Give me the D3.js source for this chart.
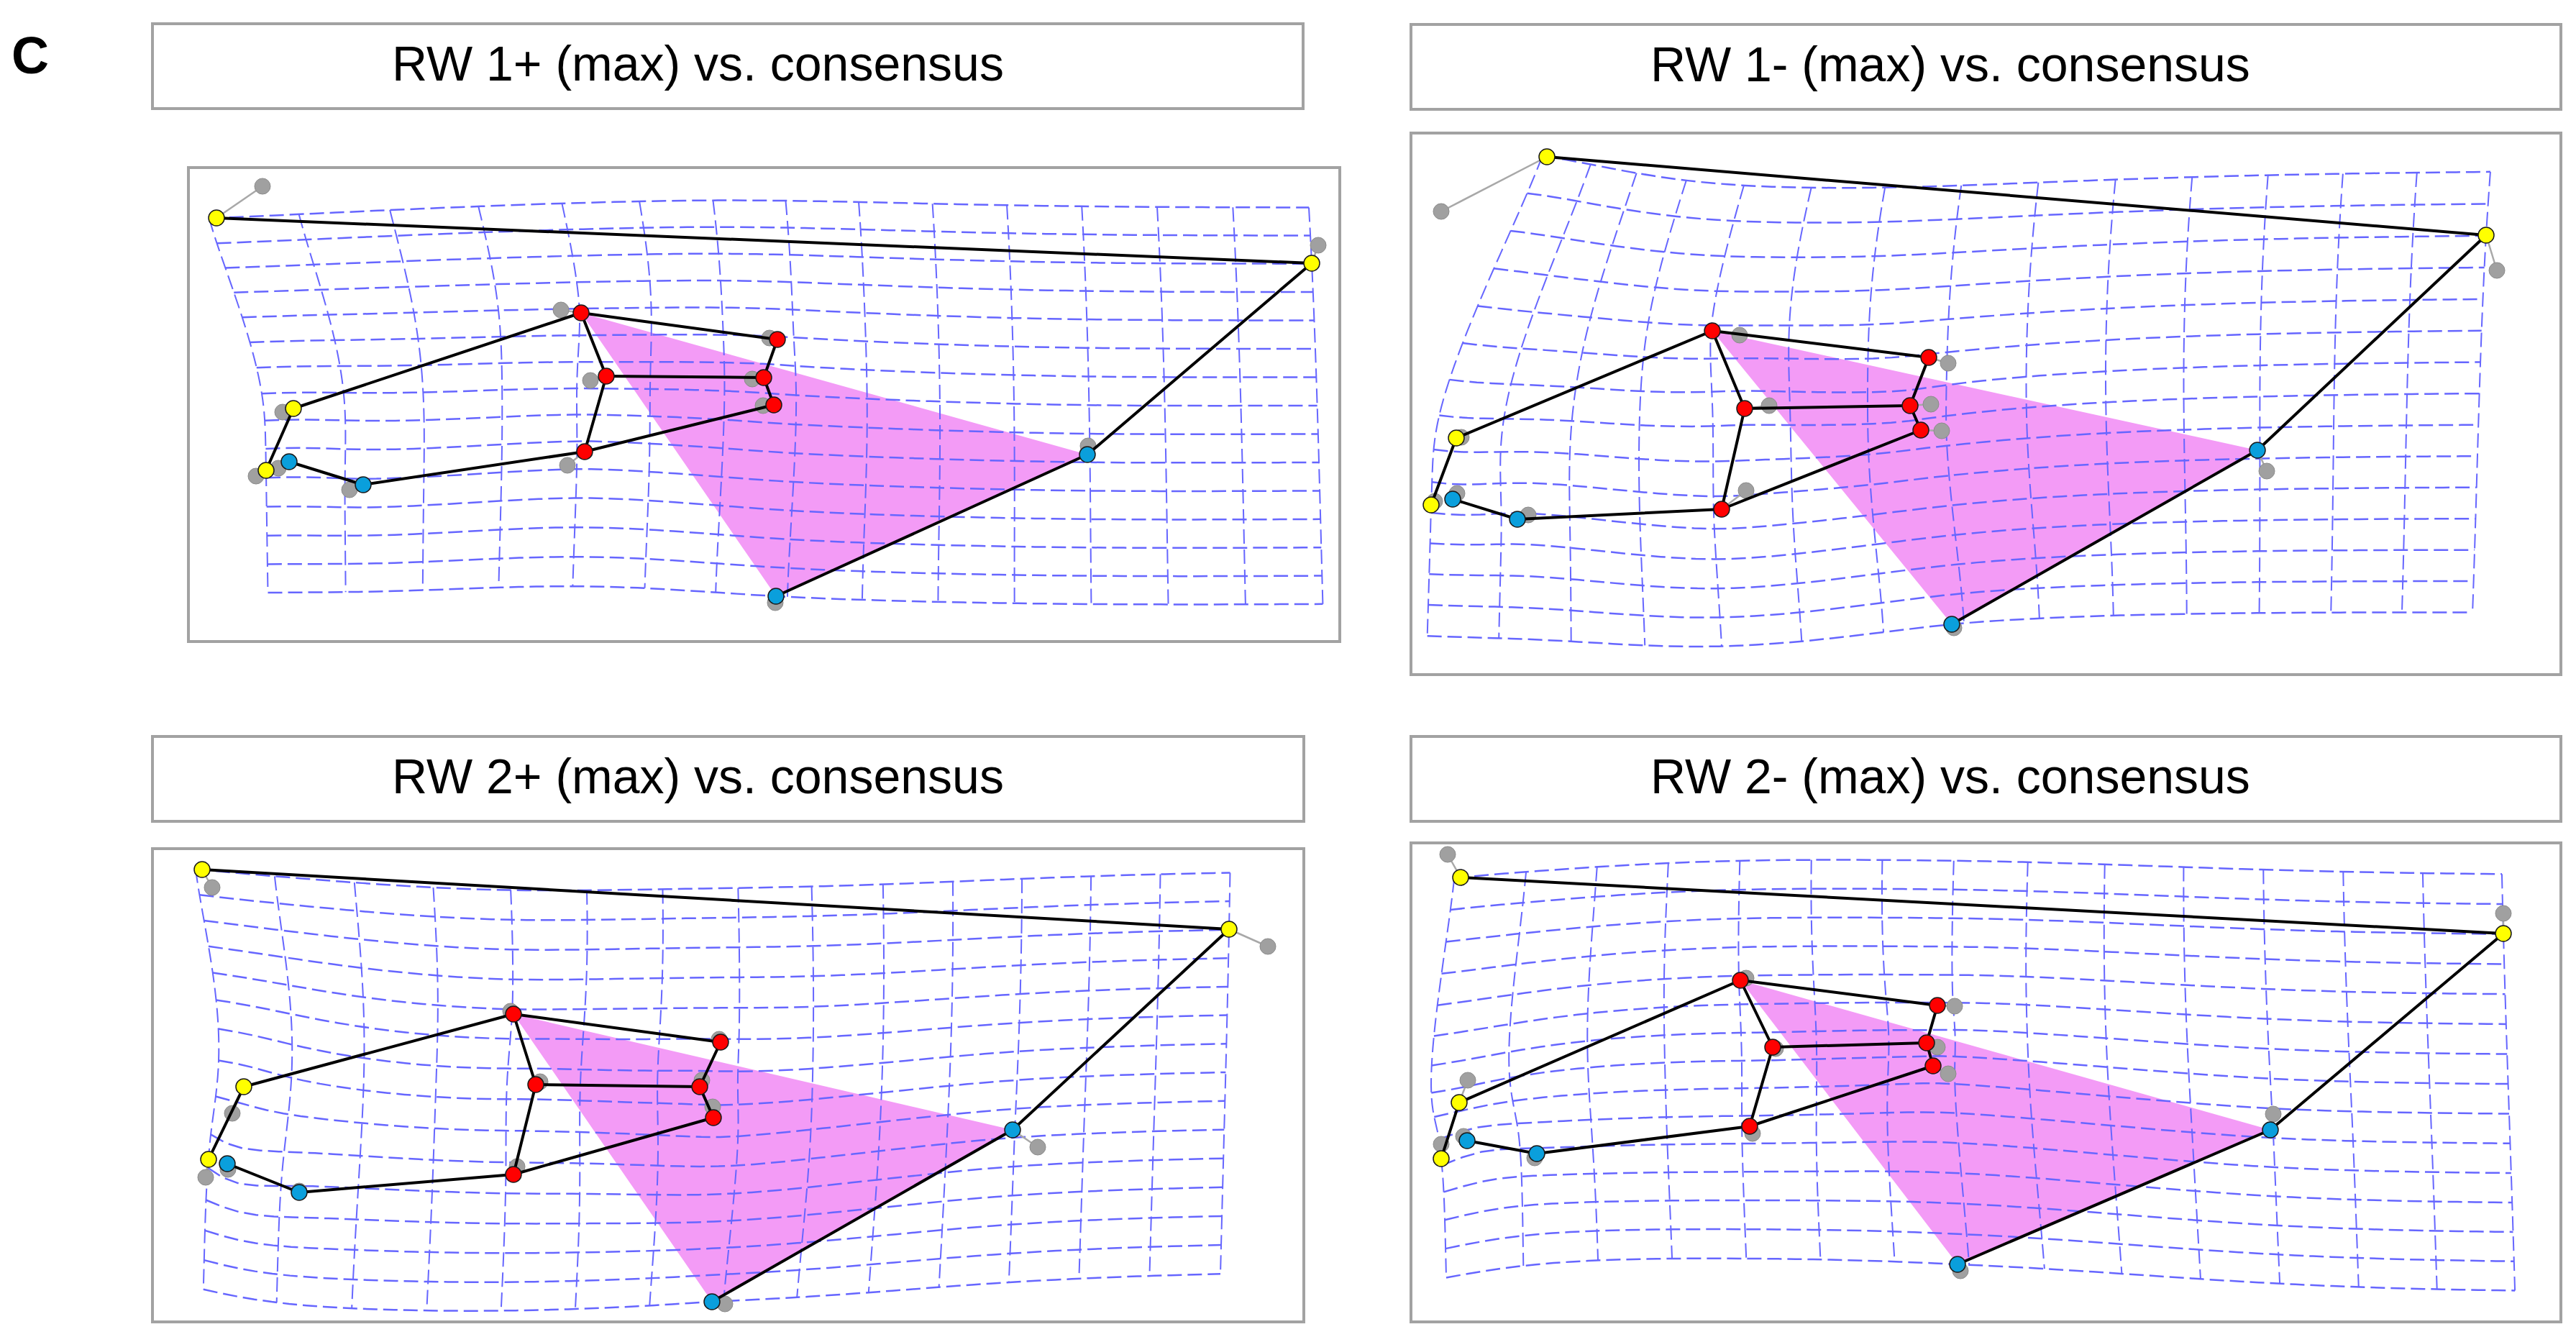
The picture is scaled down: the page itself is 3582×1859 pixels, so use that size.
<!DOCTYPE html>
<html>
<head>
<meta charset="utf-8">
<script src="https://cdn.jsdelivr.net/npm/d3@7"></script>
<style>
  html, body { margin: 0; padding: 0; background: #ffffff; }
  svg { display: block; }
</style>
</head>
<body>
<div id="chart"></div>
<script>
// ---------------- DATA ----------------
// Landmark names (14 landmarks) and their colour groups
const landmarkNames = ["Y1","Y2","R1","R2","R3","R4","R5","R6","Y3","Y4","B1","B2","B3","B4"];
const landmarkGroup = ["yellow","yellow","red","red","red","red","red","red","yellow","yellow","blue","blue","blue","blue"];

// Consensus (mean) shape, shape units, relative to landmark Y1
const consensus = [
  [0.000,0.000],[1.468,0.082],[0.415,0.172],[0.705,0.211],[0.456,0.270],[0.681,0.268],[0.696,0.305],
  [0.424,0.388],[0.028,0.314],[-0.009,0.403],[0.022,0.392],[0.121,0.422],[1.148,0.361],[0.713,0.579]
];

// Target shapes at the maximum of each relative warp (same units)
const rw1plus = [
  [-0.064,0.044],[1.459,0.107],[0.443,0.176],[0.716,0.213],[0.478,0.264],[0.697,0.266],[0.711,0.304],
  [0.448,0.369],[0.043,0.309],[0.005,0.395],[0.037,0.383],[0.140,0.415],[1.147,0.373],[0.714,0.570]
];
const rw1minus = [
  [0.147,-0.076],[1.453,0.033],[0.377,0.166],[0.678,0.203],[0.422,0.274],[0.652,0.270],[0.667,0.304],
  [0.390,0.414],[0.021,0.315],[-0.014,0.408],[0.016,0.400],[0.106,0.428],[1.135,0.332],[0.710,0.574]
];
const rw2plus = [
  [-0.014,-0.025],[1.414,0.058],[0.419,0.176],[0.707,0.215],[0.450,0.274],[0.678,0.277],[0.697,0.320],
  [0.419,0.399],[0.044,0.277],[-0.005,0.378],[0.021,0.384],[0.121,0.424],[1.113,0.337],[0.695,0.576]
];
const rw2minus = [
  [0.018,0.032],[1.468,0.110],[0.407,0.175],[0.681,0.210],[0.452,0.268],[0.666,0.262],[0.675,0.294],
  [0.420,0.378],[0.016,0.345],[-0.009,0.423],[0.027,0.398],[0.124,0.416],[1.144,0.383],[0.709,0.570]
];

const panelTitles = ["RW 1+ (max) vs. consensus","RW 1- (max) vs. consensus","RW 2+ (max) vs. consensus","RW 2- (max) vs. consensus"];
const panelTargets = [rw1plus, rw1minus, rw2plus, rw2minus];

// Wireframe links (landmark index pairs) and the highlighted triangle
const links = [[0,1],[1,12],[12,13],[8,2],[8,9],[10,11],[11,7],[7,6],[7,4],[4,2],[2,3],[3,5],[4,5],[5,6]];
const triangle = [2,12,13];
const gridLineCount = 15;
const panelLetter = "C";

// ---------------- LAYOUT / STYLE ----------------
const W = 3582, H = 1859;
const layout = [
  {title:{x:212,y:33,w:1600,h:118},  plot:{x:262,y:233,w:1601,h:659},  origin:[365,259]},
  {title:{x:1962,y:34,w:1599,h:118}, plot:{x:1962,y:185,w:1599,h:753}, origin:[2004,294]},
  {title:{x:212,y:1024,w:1601,h:118},plot:{x:212,y:1180,w:1601,h:658}, origin:[295,1234]},
  {title:{x:1962,y:1024,w:1599,h:118},plot:{x:1962,y:1172,w:1599,h:666},origin:[2013,1188]}
];
const pxPerUnit = 1000;
const colors = {yellow:"#ffff00", red:"#ff0000", blue:"#0a9fdc"};

// ---------------- THIN-PLATE SPLINE ----------------
function U(r2){ return r2 === 0 ? 0 : r2 * Math.log(r2); }
function solve(A, b){
  const n = b.length;
  const M = A.map((row,i)=>row.concat([b[i]]));
  for (let c=0;c<n;c++){
    let p=c;
    for (let r=c+1;r<n;r++) if (Math.abs(M[r][c])>Math.abs(M[p][c])) p=r;
    [M[c],M[p]]=[M[p],M[c]];
    for (let r=0;r<n;r++){
      if (r===c) continue;
      const f = M[r][c]/M[c][c];
      if (f===0) continue;
      for (let k=c;k<=n;k++) M[r][k]-=f*M[c][k];
    }
  }
  return M.map((row,i)=>row[n]/row[i]);
}
function makeTPS(src, dst){
  const n = src.length, N = n+3;
  const A = [];
  for (let i=0;i<N;i++) A.push(new Array(N).fill(0));
  for (let i=0;i<n;i++){
    for (let j=0;j<n;j++){
      const dx=src[i][0]-src[j][0], dy=src[i][1]-src[j][1];
      A[i][j]=U(dx*dx+dy*dy);
    }
    A[i][n]=1; A[i][n+1]=src[i][0]; A[i][n+2]=src[i][1];
    A[n][i]=1; A[n+1][i]=src[i][0]; A[n+2][i]=src[i][1];
  }
  const bx = dst.map(d=>d[0]).concat([0,0,0]);
  const by = dst.map(d=>d[1]).concat([0,0,0]);
  const cx = solve(A,bx), cy = solve(A,by);
  return function(x,y){
    let fx = cx[n]+cx[n+1]*x+cx[n+2]*y;
    let fy = cy[n]+cy[n+1]*x+cy[n+2]*y;
    for (let i=0;i<n;i++){
      const dx=x-src[i][0], dy=y-src[i][1];
      const u=U(dx*dx+dy*dy);
      fx+=cx[i]*u; fy+=cy[i]*u;
    }
    return [fx,fy];
  };
}

// ---------------- DRAW ----------------
const svg = d3.select("#chart").append("svg")
  .attr("width", W).attr("height", H)
  .attr("viewBox", `0 0 ${W} ${H}`);
svg.append("rect").attr("width",W).attr("height",H).attr("fill","#fff");

svg.append("text")
  .attr("x", 16).attr("y", 102)
  .attr("font-family","Liberation Sans, Arial, sans-serif")
  .attr("font-weight","bold").attr("font-size",72)
  .attr("fill","#000").text(panelLetter);

const cxExt = d3.extent(consensus, d=>d[0]);
const cyExt = d3.extent(consensus, d=>d[1]);

panelTargets.forEach((target, p)=>{
  const L = layout[p];
  const g = svg.append("g");

  // title box
  g.append("rect").attr("x",L.title.x).attr("y",L.title.y)
    .attr("width",L.title.w).attr("height",L.title.h)
    .attr("fill","#fff").attr("stroke","#a2a2a2").attr("stroke-width",4);
  g.append("text").attr("x",L.title.x+333).attr("y",L.title.y+79)
    .attr("font-family","Liberation Sans, Arial, sans-serif")
    .attr("font-size",68).attr("fill","#000").text(panelTitles[p]);

  // plot box
  g.append("rect").attr("x",L.plot.x).attr("y",L.plot.y)
    .attr("width",L.plot.w).attr("height",L.plot.h)
    .attr("fill","#fff").attr("stroke","#a2a2a2").attr("stroke-width",4);

  const xs = d3.scaleLinear().domain([0,1]).range([L.origin[0], L.origin[0]+pxPerUnit]);
  const ys = d3.scaleLinear().domain([0,1]).range([L.origin[1], L.origin[1]+pxPerUnit]);
  const tps = makeTPS(consensus, target);
  const line = d3.line().x(d=>xs(d[0])).y(d=>ys(d[1]));

  // triangle
  g.append("path")
    .attr("d", line(triangle.map(i=>target[i])) + "Z")
    .attr("fill","#f39bf6").attr("stroke","none");

  // deformation grid
  const gx = d3.range(gridLineCount).map(i=>cxExt[0]+(cxExt[1]-cxExt[0])*i/(gridLineCount-1));
  const gy = d3.range(gridLineCount).map(i=>cyExt[0]+(cyExt[1]-cyExt[0])*i/(gridLineCount-1));
  const samples = d3.range(61).map(k=>k/60);
  const gridG = g.append("g").attr("fill","none").attr("stroke","#6666ff")
    .attr("stroke-dasharray","20,8");
  gy.forEach(yv=>{
    const pts = samples.map(t=>tps(cxExt[0]+(cxExt[1]-cxExt[0])*t, yv));
    gridG.append("path").attr("d", line(pts)).attr("stroke-width",2.5);
  });
  gx.forEach(xv=>{
    const pts = samples.map(t=>tps(xv, cyExt[0]+(cyExt[1]-cyExt[0])*t));
    gridG.append("path").attr("d", line(pts)).attr("stroke-width",2);
  });

  // displacement lines consensus -> target
  g.append("g").selectAll("line").data(d3.range(consensus.length)).join("line")
    .attr("x1",i=>xs(consensus[i][0])).attr("y1",i=>ys(consensus[i][1]))
    .attr("x2",i=>xs(target[i][0])).attr("y2",i=>ys(target[i][1]))
    .attr("stroke","#a8a8a8").attr("stroke-width",2.5);

  // consensus dots
  g.append("g").selectAll("circle").data(consensus).join("circle")
    .attr("cx",d=>xs(d[0])).attr("cy",d=>ys(d[1])).attr("r",11)
    .attr("fill","#a0a0a0").attr("stroke","#8c8c8c").attr("stroke-width",1);

  // wireframe
  g.append("g").selectAll("line").data(links).join("line")
    .attr("x1",d=>xs(target[d[0]][0])).attr("y1",d=>ys(target[d[0]][1]))
    .attr("x2",d=>xs(target[d[1]][0])).attr("y2",d=>ys(target[d[1]][1]))
    .attr("stroke","#000").attr("stroke-width",4).attr("stroke-linecap","round");

  // target dots
  g.append("g").selectAll("circle").data(target).join("circle")
    .attr("cx",d=>xs(d[0])).attr("cy",d=>ys(d[1])).attr("r",11)
    .attr("fill",(d,i)=>colors[landmarkGroup[i]])
    .attr("stroke","#1a1a1a").attr("stroke-width",1.5);
});
</script>
</body>
</html>
